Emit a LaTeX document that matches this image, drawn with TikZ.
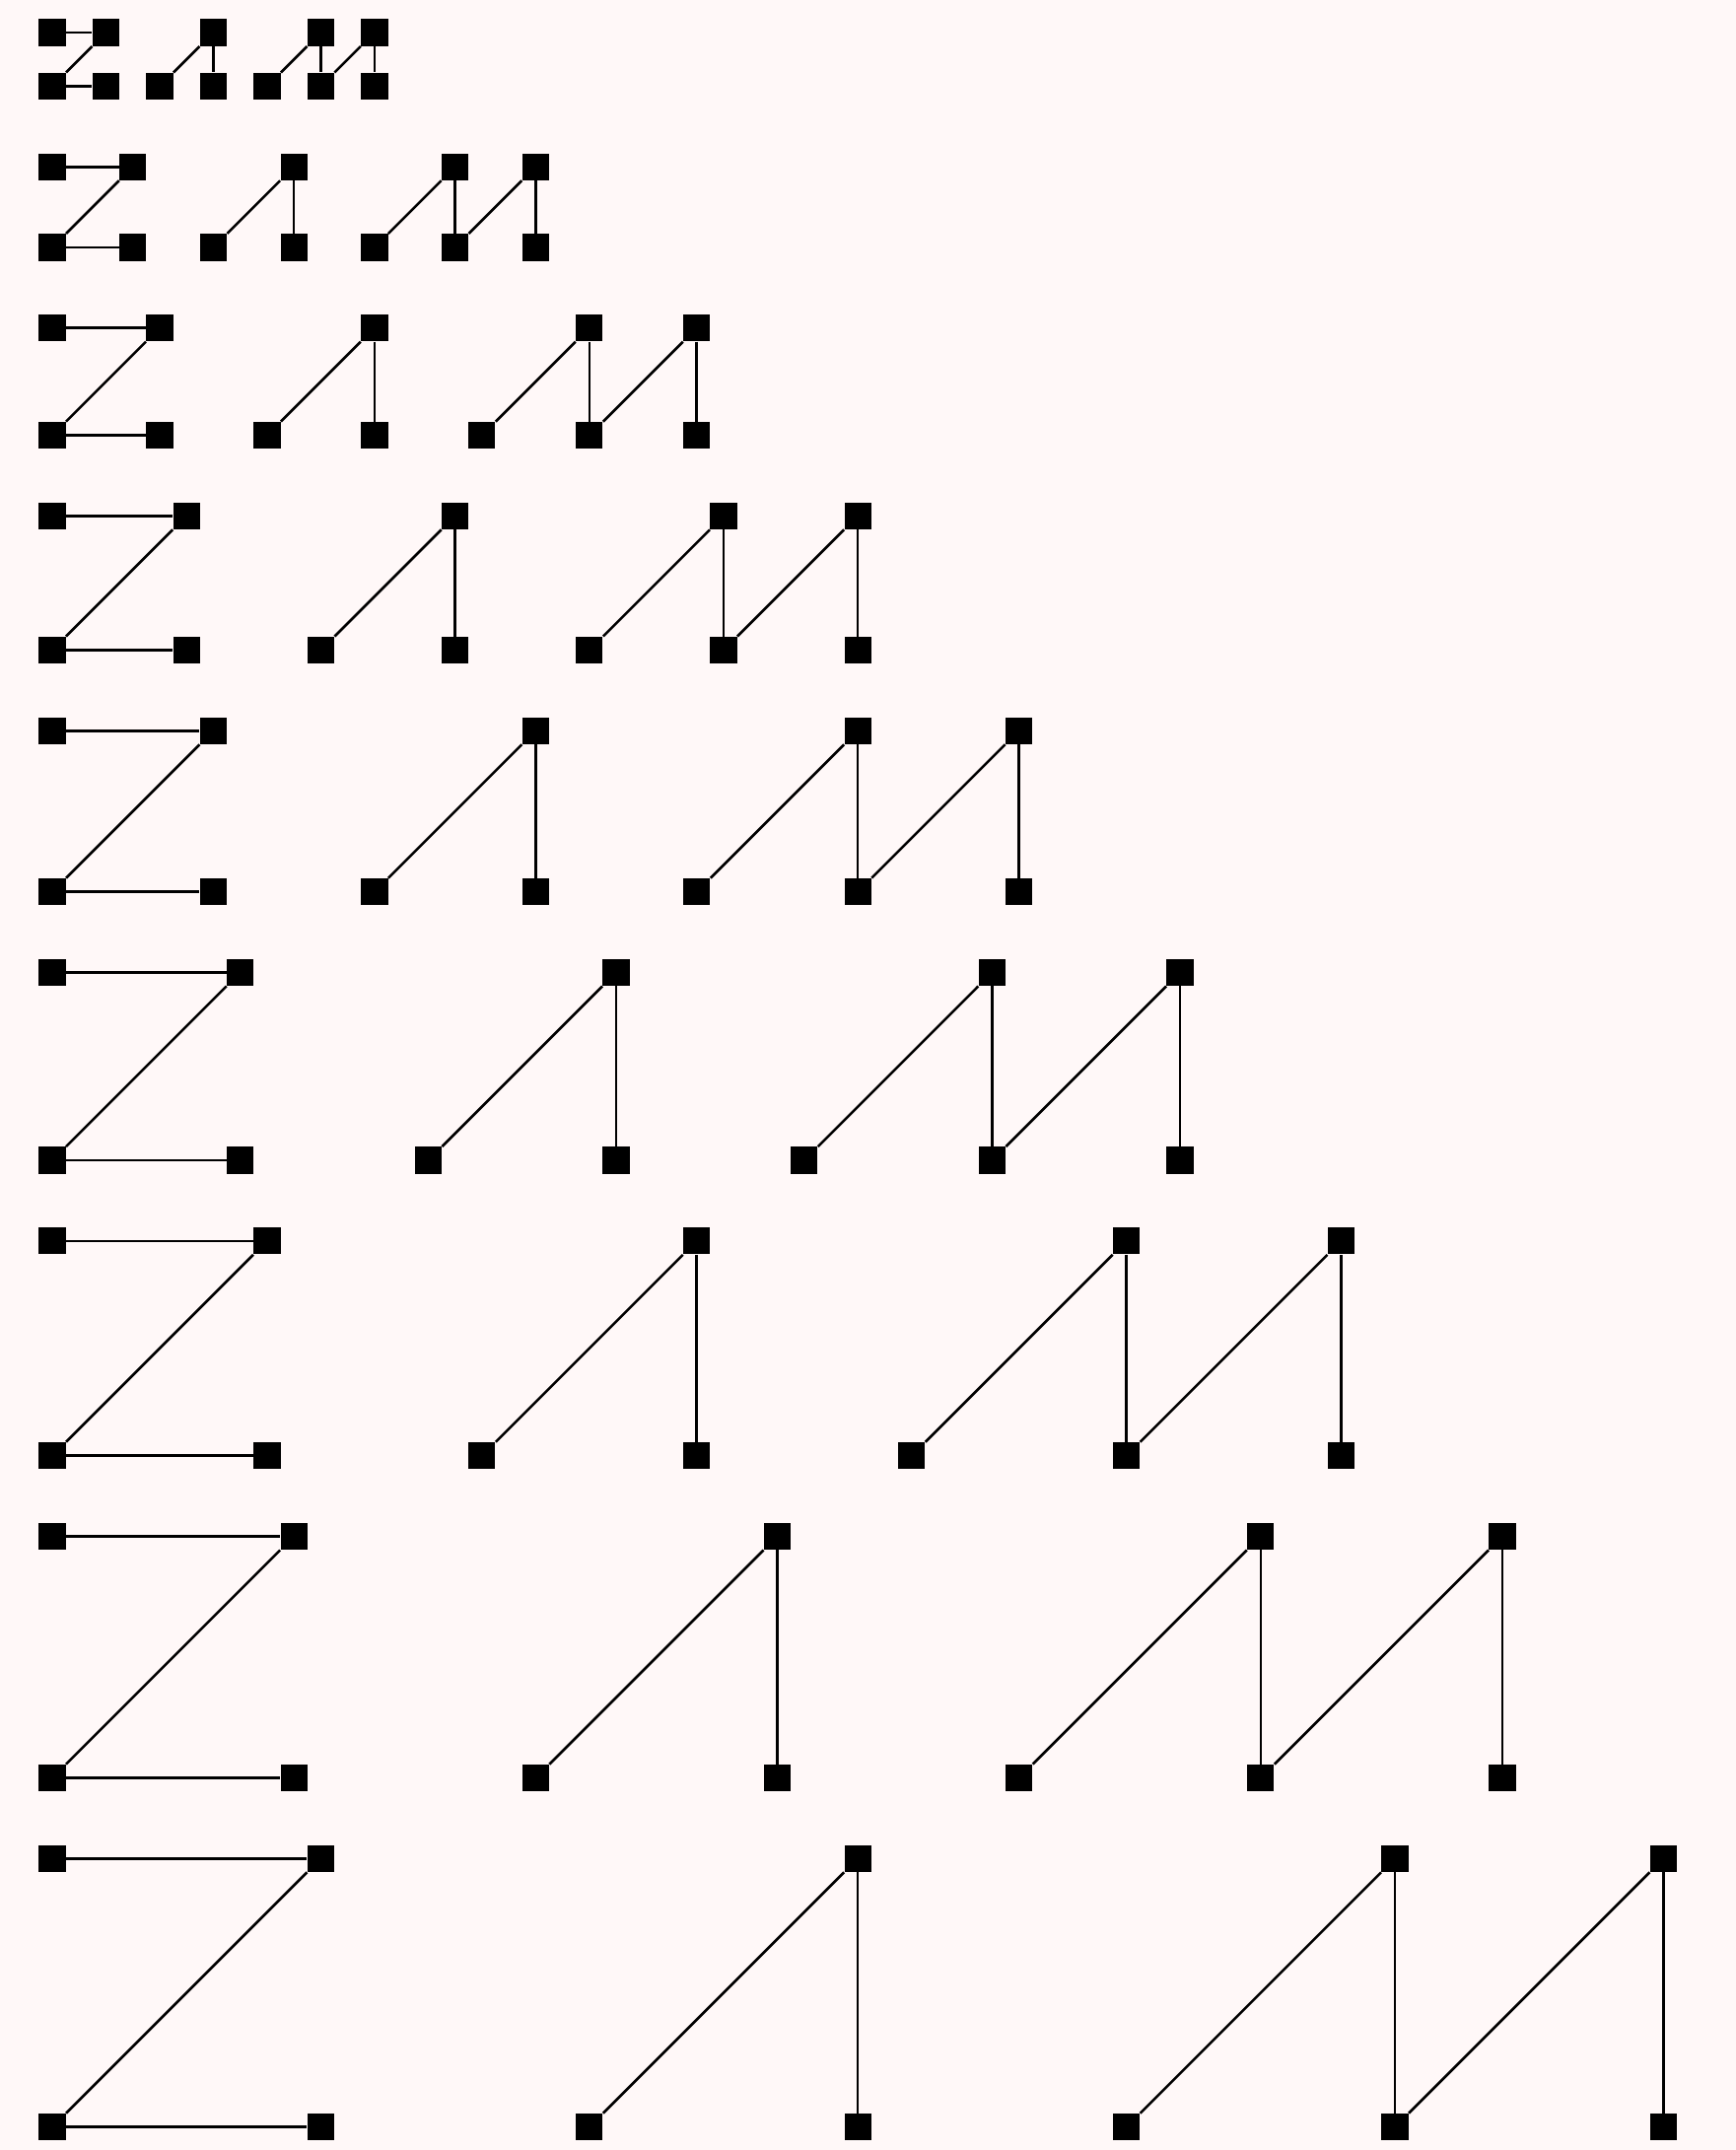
\documentclass[tikz,border=0pt]{standalone}
\usepackage{xcolor}
\usepackage{tikz}
\definecolor{paper}{RGB}{255,248,248}
\definecolor{ink}{RGB}{0,0,0}

\begin{document}
\begin{tikzpicture}[
  x=5mm, y=5mm,
  sq/.style={draw=none, fill=ink, rectangle, inner sep=0pt, minimum size=5mm},
  link/.style={draw=ink, line width=1.35pt}]
  \fill[paper] (-1.946, 1.212) rectangle (62.70, -78.855);
  \foreach \k in {1,...,9}{
    \pgfmathsetmacro\sz{\k+1}
    \pgfmathsetmacro\ytop{-(\k-1)*(\k+8)/2}
    \pgfmathsetmacro\ybot{\ytop-\sz}
    % Z
    \node[sq] (za\k) at (0, \ytop) {};
    \node[sq] (zb\k) at (\sz, \ytop) {};
    \node[sq] (zc\k) at (0, \ybot) {};
    \node[sq] (zd\k) at (\sz, \ybot) {};
    \draw[link] (za\k) -- (zb\k);
    \draw[link] (zb\k) -- (zc\k);
    \draw[link] (zc\k) -- (zd\k);
    % Lambda
    \node[sq] (la\k) at ({2*\sz}, \ybot) {};
    \node[sq] (lb\k) at ({3*\sz}, \ytop) {};
    \node[sq] (lc\k) at ({3*\sz}, \ybot) {};
    \draw[link] (la\k) -- (lb\k);
    \draw[link] (lb\k) -- (lc\k);
    % N
    \node[sq] (na\k) at ({4*\sz}, \ybot) {};
    \node[sq] (nb\k) at ({5*\sz}, \ytop) {};
    \node[sq] (nc\k) at ({5*\sz}, \ybot) {};
    \node[sq] (nd\k) at ({6*\sz}, \ytop) {};
    \node[sq] (ne\k) at ({6*\sz}, \ybot) {};
    \draw[link] (na\k) -- (nb\k);
    \draw[link] (nb\k) -- (nc\k);
    \draw[link] (nc\k) -- (nd\k);
    \draw[link] (nd\k) -- (ne\k);
  }
\end{tikzpicture}
\end{document}
